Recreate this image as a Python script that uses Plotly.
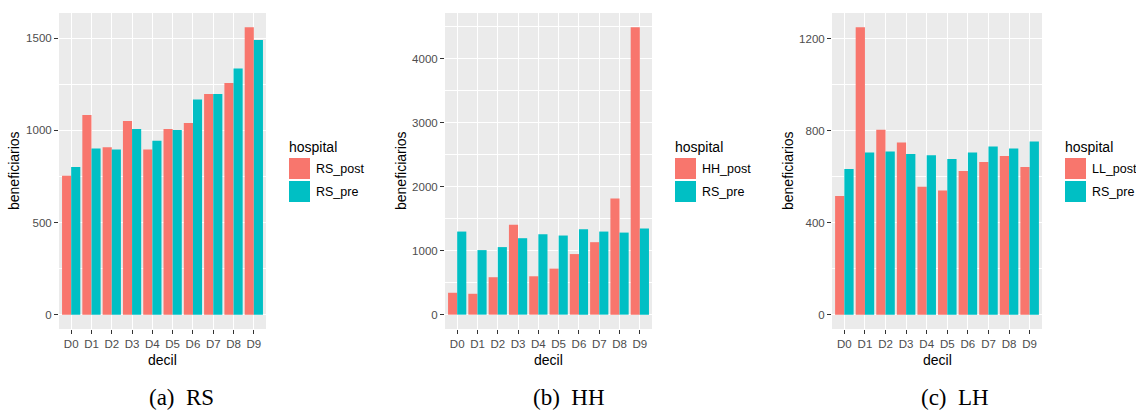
import plotly.graph_objects as go

# Deciles shared by the three panels
deciles = ["D0", "D1", "D2", "D3", "D4", "D5", "D6", "D7", "D8", "D9"]

# (a) RS
rs_post = [754, 1083, 909, 1051, 896, 1008, 1040, 1198, 1257, 1559]
rs_pre = [801, 902, 896, 1008, 943, 1002, 1168, 1198, 1336, 1491]

# (b) HH
hh_post = [342, 326, 585, 1407, 600, 719, 947, 1133, 1816, 4492]
hh_pre_rs = [1299, 1009, 1056, 1195, 1257, 1237, 1335, 1299, 1283, 1345]

# (c) LH
ll_post = [516, 1250, 804, 749, 557, 540, 625, 664, 690, 642]
ll_pre_rs = [634, 706, 710, 699, 694, 677, 706, 732, 723, 753]

post_labels = ["RS_post", "HH_post", "LL_post"]
captions = ["(a)&nbsp;&nbsp;RS", "(b)&nbsp;&nbsp;HH", "(c)&nbsp;&nbsp;LH"]
y_dticks = [500, 1000, 400]

W, H = 1136, 411
RED, TEAL = "#F8766D", "#00BFC4"


def px(x):
    return x / W


def py(y):
    return 1 - y / H


panels = [
    dict(post=rs_post, pre=rs_pre, x0=59, x1=266, ylab_x=14, leg_x=288),
    dict(post=hh_post, pre=hh_pre_rs, x0=445, x1=652, ylab_x=401, leg_x=674),
    dict(post=ll_post, pre=ll_pre_rs, x0=832, x1=1042, ylab_x=788, leg_x=1064),
]
top_px, bot_px = 13, 329

fig = go.Figure()
shapes, annotations = [], []

for i, p in enumerate(panels):
    n = i + 1
    xa = "x" if n == 1 else f"x{n}"
    ya = "y" if n == 1 else f"y{n}"
    fig.add_trace(go.Bar(x=deciles, y=p["post"], name=post_labels[i],
                         marker=dict(color=RED, line=dict(width=0)),
                         xaxis=xa, yaxis=ya, showlegend=False))
    fig.add_trace(go.Bar(x=deciles, y=p["pre"], name="RS_pre",
                         marker=dict(color=TEAL, line=dict(width=0)),
                         xaxis=xa, yaxis=ya, showlegend=False))

    ymax = max(max(p["post"]), max(p["pre"]))
    dt = y_dticks[i]
    axis_common = dict(
        showline=False, zeroline=False, automargin=False,
        ticks="outside", ticklen=4, tickwidth=1.1, tickcolor="#333333",
        tickfont=dict(family="Liberation Sans, Arial", size=11.5, color="#4D4D4D"),
        showgrid=True, gridcolor="white", gridwidth=1.1,
    )
    xkey = "xaxis" if n == 1 else f"xaxis{n}"
    ykey = "yaxis" if n == 1 else f"yaxis{n}"
    fig.update_layout({
        xkey: dict(domain=[px(p["x0"]), px(p["x1"])], anchor=ya,
                   type="category", range=[-0.6, 9.6], **axis_common),
        ykey: dict(domain=[py(bot_px), py(top_px)], anchor=xa,
                   range=[-0.05 * ymax, 1.05 * ymax], tick0=0, dtick=dt,
                   minor=dict(dtick=dt / 2, showgrid=True, gridcolor="white",
                              gridwidth=0.5, ticks=""),
                   **axis_common),
    })

    # panel background
    shapes.append(dict(type="rect", xref="paper", yref="paper",
                       x0=px(p["x0"]), x1=px(p["x1"]),
                       y0=py(bot_px), y1=py(top_px),
                       fillcolor="#EBEBEB", line=dict(width=0), layer="below"))

    # axis titles
    annotations.append(dict(text="beneficiarios", textangle=-90,
                            x=px(p["ylab_x"]), y=py(171), xref="paper", yref="paper",
                            showarrow=False, xanchor="center", yanchor="middle",
                            font=dict(family="Liberation Sans, Arial", size=14, color="black")))
    annotations.append(dict(text="decil",
                            x=px((p["x0"] + p["x1"]) / 2), y=py(360),
                            xref="paper", yref="paper", showarrow=False,
                            xanchor="center", yanchor="middle",
                            font=dict(family="Liberation Sans, Arial", size=14, color="black")))

    # legend: title, keys and labels
    lx = p["leg_x"]
    annotations.append(dict(text="hospital", x=px(lx - 1), y=py(147),
                            xref="paper", yref="paper", showarrow=False,
                            xanchor="left", yanchor="middle",
                            font=dict(family="Liberation Sans, Arial", size=14, color="black")))
    for k, (lab, col) in enumerate([(post_labels[i], RED), ("RS_pre", TEAL)]):
        ky0 = 158 + k * 23
        shapes.append(dict(type="rect", xref="paper", yref="paper",
                           x0=px(lx + 1), x1=px(lx + 22),
                           y0=py(ky0 + 21), y1=py(ky0),
                           fillcolor=col, line=dict(width=0)))
        annotations.append(dict(text=lab, x=px(lx + 26), y=py(ky0 + 10.5),
                                xref="paper", yref="paper", showarrow=False,
                                xanchor="left", yanchor="middle",
                                font=dict(family="Liberation Sans, Arial", size=12.5,
                                          color="black")))

    # caption
    annotations.append(dict(text=captions[i], x=px([181, 569, 955][i]), y=py(397),
                            xref="paper", yref="paper", showarrow=False,
                            xanchor="center", yanchor="middle",
                            font=dict(family="Liberation Serif, serif", size=23,
                                      color="black")))

fig.update_layout(
    width=W, height=H,
    margin=dict(l=0, r=0, t=0, b=0),
    paper_bgcolor="white", plot_bgcolor="rgba(0,0,0,0)",
    barmode="group", bargap=0.1, bargroupgap=0,
    showlegend=False,
    shapes=shapes, annotations=annotations,
)

fig.write_html("out.html")
